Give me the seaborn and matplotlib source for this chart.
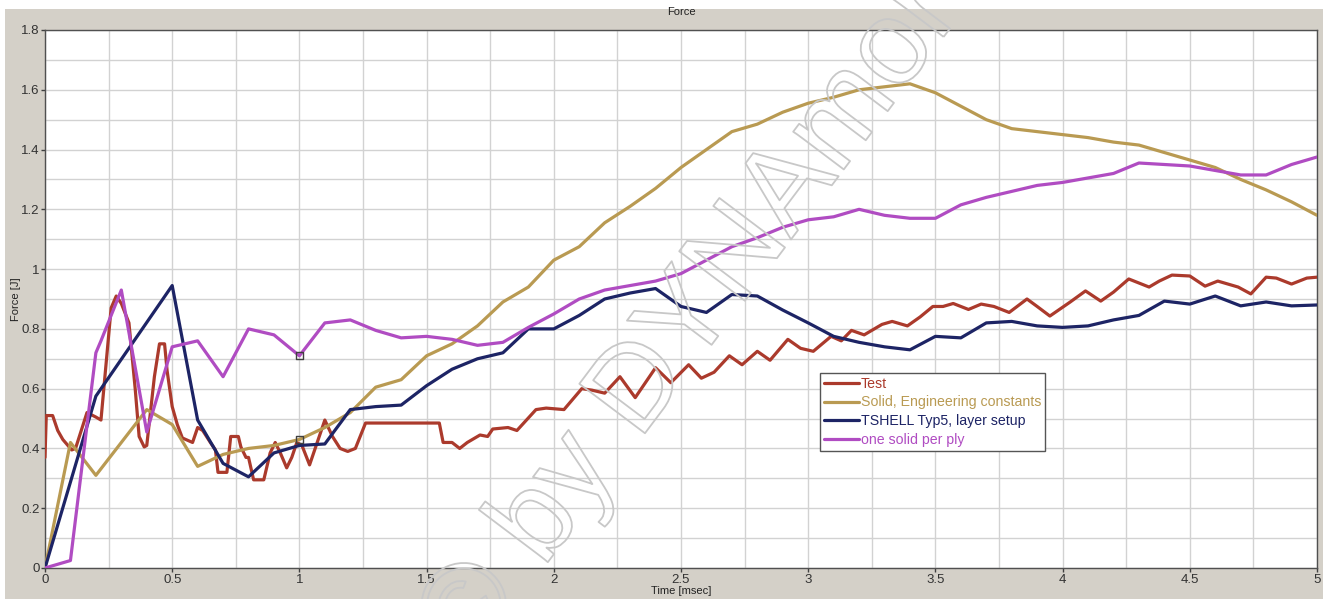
import matplotlib
matplotlib.use("Agg")
import matplotlib.pyplot as plt
import matplotlib.patheffects as pe
from matplotlib.patches import Rectangle
from matplotlib.ticker import MultipleLocator
import seaborn as sns
import numpy as np
import pandas as pd

# --- data ---
test_t = [0.0, 0.005, 0.03, 0.05, 0.07, 0.105, 0.12, 0.165, 0.20, 0.22, 0.26, 0.28, 0.30, 0.33,
          0.355, 0.37, 0.39, 0.40, 0.43, 0.45, 0.47, 0.48, 0.50, 0.52, 0.54, 0.58, 0.60, 0.62,
          0.65, 0.67, 0.68, 0.715, 0.73, 0.76, 0.77, 0.79, 0.80, 0.82, 0.86, 0.885, 0.905,
          0.925, 0.95, 0.97, 0.99, 1.01, 1.04, 1.06, 1.10, 1.13, 1.16, 1.19, 1.22, 1.26, 1.55,
          1.565, 1.60, 1.63, 1.66, 1.71, 1.74, 1.76, 1.82, 1.855, 1.93, 1.97, 2.04, 2.11, 2.15,
          2.20, 2.26, 2.32, 2.40, 2.46, 2.53, 2.58, 2.63, 2.69, 2.74, 2.80, 2.85, 2.92, 2.97,
          3.02, 3.09, 3.13, 3.17, 3.22, 3.29, 3.33, 3.39, 3.44, 3.49, 3.53, 3.57, 3.63, 3.68,
          3.73, 3.79, 3.86, 3.90, 3.95, 4.03, 4.09, 4.15, 4.20, 4.26, 4.34, 4.38, 4.43, 4.50,
          4.56, 4.61, 4.69, 4.74, 4.80, 4.84, 4.90, 4.96, 5.0]
test_f = [0.37, 0.51, 0.51, 0.46, 0.43, 0.395, 0.40, 0.52, 0.505, 0.495, 0.87, 0.91, 0.885, 0.82,
          0.595, 0.44, 0.405, 0.41, 0.64, 0.75, 0.75, 0.66, 0.54, 0.48, 0.435, 0.42, 0.47, 0.46,
          0.42, 0.395, 0.32, 0.32, 0.44, 0.44, 0.405, 0.37, 0.37, 0.295, 0.295, 0.385, 0.42,
          0.385, 0.335, 0.37, 0.42, 0.41, 0.345, 0.395, 0.495, 0.44, 0.40, 0.39, 0.40, 0.485, 0.485,
          0.42, 0.42, 0.40, 0.42, 0.445, 0.44, 0.465, 0.47, 0.46, 0.53, 0.535, 0.53, 0.60, 0.595,
          0.585, 0.64, 0.57, 0.67, 0.62, 0.68, 0.635, 0.655, 0.71, 0.68, 0.725, 0.695, 0.765, 0.735,
          0.725, 0.775, 0.76, 0.795, 0.78, 0.815, 0.825, 0.81, 0.84, 0.875, 0.875, 0.885, 0.865, 0.883,
          0.875, 0.855, 0.90, 0.875, 0.843, 0.89, 0.927, 0.893, 0.923, 0.967, 0.94, 0.96, 0.98, 0.977,
          0.943, 0.96, 0.94, 0.917, 0.973, 0.97, 0.95, 0.97, 0.973]

solid_t = [0.0, 0.1, 0.2, 0.3, 0.4, 0.5, 0.6, 0.7, 0.8, 0.9, 1.0, 1.1, 1.2, 1.3, 1.4, 1.5, 1.6,
           1.7, 1.8, 1.9, 2.0, 2.1, 2.2, 2.3, 2.4, 2.5, 2.6, 2.7, 2.8, 2.9, 3.0, 3.1, 3.2, 3.3,
           3.4, 3.5, 3.6, 3.7, 3.8, 3.9, 4.0, 4.1, 4.2, 4.3, 4.4, 4.5, 4.6, 4.7, 4.8, 4.9, 5.0]
solid_f = [0.0, 0.42, 0.31, 0.42, 0.53, 0.48, 0.34, 0.38, 0.40, 0.41, 0.43, 0.47, 0.52, 0.605, 0.63,
           0.71, 0.75, 0.81, 0.89, 0.94, 1.03, 1.075, 1.155, 1.21, 1.27, 1.34, 1.40, 1.46, 1.485,
           1.525, 1.555, 1.575, 1.60, 1.61, 1.62, 1.59, 1.545, 1.50, 1.47, 1.46, 1.45, 1.44, 1.425,
           1.415, 1.39, 1.365, 1.34, 1.30, 1.265, 1.225, 1.18]

tshell_t = [0.0, 0.2, 0.5, 0.6, 0.7, 0.8, 0.9, 1.0, 1.1, 1.2, 1.3, 1.4, 1.5, 1.6, 1.7, 1.8, 1.9,
            2.0, 2.1, 2.2, 2.3, 2.4, 2.5, 2.6, 2.7, 2.8, 2.9, 3.0, 3.1, 3.2, 3.3, 3.4, 3.5, 3.6,
            3.7, 3.8, 3.9, 4.0, 4.1, 4.2, 4.3, 4.4, 4.5, 4.6, 4.7, 4.8, 4.9, 5.0]
tshell_f = [0.0, 0.575, 0.945, 0.495, 0.35, 0.305, 0.385, 0.41, 0.415, 0.53, 0.54, 0.545, 0.61,
            0.665, 0.70, 0.72, 0.80, 0.80, 0.845, 0.90, 0.92, 0.935, 0.875, 0.855, 0.915, 0.91,
            0.863, 0.82, 0.775, 0.755, 0.74, 0.73, 0.775, 0.77, 0.82, 0.825, 0.81, 0.805, 0.81,
            0.83, 0.845, 0.893, 0.883, 0.91, 0.877, 0.89, 0.877, 0.88]

ply_t = [0.0, 0.1, 0.2, 0.22, 0.3, 0.4, 0.5, 0.6, 0.7, 0.8, 0.9, 1.0, 1.1, 1.2, 1.3, 1.4, 1.5,
         1.6, 1.7, 1.8, 1.9, 2.0, 2.1, 2.2, 2.3, 2.4, 2.5, 2.6, 2.7, 2.8, 2.9, 3.0, 3.1, 3.2,
         3.3, 3.4, 3.5, 3.6, 3.7, 3.8, 3.9, 4.0, 4.1, 4.2, 4.3, 4.4, 4.5, 4.6, 4.7, 4.8, 4.9, 5.0]
ply_f = [0.0, 0.025, 0.72, 0.76, 0.93, 0.455, 0.74, 0.76, 0.64, 0.80, 0.78, 0.71, 0.82, 0.83,
         0.795, 0.77, 0.775, 0.765, 0.745, 0.755, 0.805, 0.85, 0.90, 0.93, 0.945, 0.96, 0.985,
         1.03, 1.075, 1.105, 1.14, 1.165, 1.175, 1.20, 1.18, 1.17, 1.17, 1.215, 1.24, 1.26, 1.28,
         1.29, 1.305, 1.32, 1.355, 1.35, 1.345, 1.33, 1.315, 1.315, 1.35, 1.375]

# cursor markers at t = 1 msec
marker_t = [1.0, 1.0]
marker_f = [0.71, 0.43]

labels = ["Test", "Solid, Engineering constants", "TSHELL Typ5, layer setup", "one solid per ply"]
colors = ["#ab3a2c", "#b99a52", "#1d2465", "#b04cc2"]

series = [(test_t, test_f), (solid_t, solid_f), (tshell_t, tshell_f), (ply_t, ply_f)]
df = pd.concat([pd.DataFrame({"t": t, "force": f, "curve": lab})
                for (t, f), lab in zip(series, labels)], ignore_index=True)

sns.set_theme(style="whitegrid")
plt.rcParams["font.family"] = ["Liberation Sans", "DejaVu Sans"]

fig = plt.figure(figsize=(13.31, 5.99), dpi=100)
fig.patch.set_facecolor("white")
fig.add_artist(Rectangle((5 / 1331, 0), 1318 / 1331, 590 / 599, transform=fig.transFigure,
                         facecolor="#d4d0c8", edgecolor="none", zorder=0))
ax = fig.add_axes([45 / 1331, 31 / 599, 1272 / 1331, 538 / 599])
ax.set_facecolor("white")

sns.lineplot(data=df, x="t", y="force", hue="curve", hue_order=labels,
             palette=dict(zip(labels, colors)), sort=False, estimator=None,
             linewidth=2.3, ax=ax, zorder=3)
ax.scatter(marker_t, marker_f, marker="s", s=28, facecolors="none",
           edgecolors="#404040", linewidths=1.0, zorder=5)

ax.set_xlim(0, 5)
ax.set_ylim(0, 1.8)
ax.xaxis.set_major_locator(MultipleLocator(0.5))
ax.xaxis.set_minor_locator(MultipleLocator(0.25))
ax.yaxis.set_major_locator(MultipleLocator(0.2))
ax.yaxis.set_minor_locator(MultipleLocator(0.1))
ax.xaxis.set_major_formatter(lambda v, p: f"{v:g}")
ax.yaxis.set_major_formatter(lambda v, p: f"{v:g}")
ax.grid(which="both", color="#d2d2d2", linewidth=1.0)
ax.tick_params(which="major", length=3, width=1, color="#404040", labelsize=9.5,
               labelcolor="#333333", pad=1, bottom=True, left=True)
ax.tick_params(which="minor", length=0)
for s in ax.spines.values():
    s.set_color("#505050")
    s.set_linewidth(1.0)

ax.set_xlabel("Time [msec]", fontsize=8, color="#222222", labelpad=0.5)
ax.set_ylabel("Force [J]", fontsize=8, color="#222222", labelpad=0)
ax.set_title("Force", fontsize=8, color="#222222", pad=11)

leg = ax.legend(loc="upper left", bbox_to_anchor=(0.609, 0.363), fontsize=10.2,
                frameon=True, fancybox=False, handlelength=2.45, handletextpad=0.15,
                borderpad=0.3, labelspacing=0.32, borderaxespad=0)
leg.get_frame().set_edgecolor("#555555")
leg.get_frame().set_linewidth(1.0)
leg.get_frame().set_alpha(1)
for txt, c in zip(leg.get_texts(), colors):
    txt.set_color(c)

# watermark (clipped to the chart frame, as in the screenshot)
wm = fig.text(0.535, 0.51, "© by DYNAmore", fontsize=86, rotation=53, ha="center", va="center",
              color="none", zorder=10,
              path_effects=[pe.Stroke(linewidth=1.3, foreground="#c8c8c8")])
wm.set_clip_on(True)

fig.savefig("out.png", dpi=100)
